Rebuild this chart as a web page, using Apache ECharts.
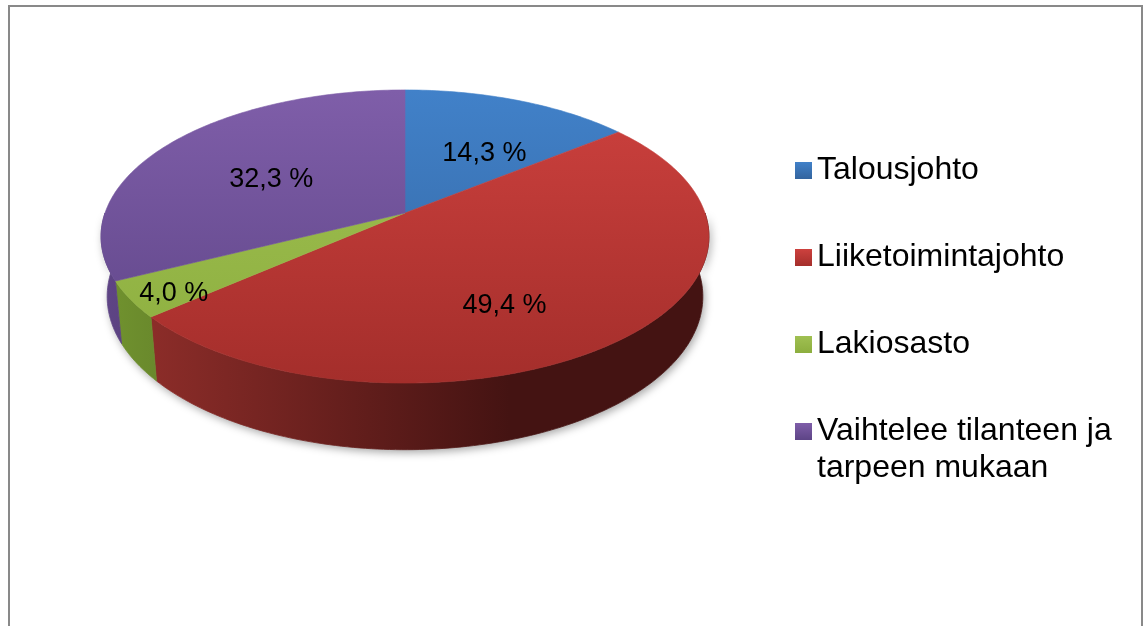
<!DOCTYPE html>
<html>
<head>
<meta charset="utf-8">
<title>Pie 3D</title>
<script src="https://cdn.jsdelivr.net/npm/echarts@6/dist/echarts.min.js"></script>
<style>
  html, body { margin: 0; padding: 0; background: #fff; }
  #chart { width: 1143px; height: 626px; }
</style>
</head>
<body>
<div id="chart"></div>
<script>
const categories = ['Talousjohto', 'Liiketoimintajohto', 'Lakiosasto', 'Vaihtelee tilanteen ja tarpeen mukaan'];
const values = [14.3, 49.4, 4.0, 32.3];
const topColors = [['#4181c9', '#33649e'], ['#cd413e', '#a42e2b'], ['#a0c052', '#8cae3e'], ['#7f5ea9', '#5d4486']];
const sideColors = [['#30588a', '#172a44'], ['#96302c', '#441312'], ['#72942f', '#34451a'], ['#5f4586', '#2b1e3e']];
// label placement tweaks (radius fraction, angle shift in degrees)
const labelR = [0.54, 0.65, 0.87, 0.53];
const labelShift = [6, 12, -2, -3];

// fake 3d: tilt + a bit of perspective
const TILT_SIN = 0.476, TILT_COS = 0.879, PERSP = 0.1825, DEPTH = 0.23;
const total = values.reduce((a, b) => a + b, 0);
const FONT = '"Liberation Sans", Arial, sans-serif';

function project(theta, r, h) {
  const a = theta * Math.PI / 180;
  const X = r * Math.sin(a), Z = r * Math.cos(a);
  const d = 1 + PERSP * (Z * TILT_COS - h * TILT_SIN);
  return [X / d, (Z * TILT_SIN + h * TILT_COS) / d];
}

function fmt(v) {
  return v.toFixed(1).replace('.', ',') + ' %';
}

function renderSlice(params, api) {
  const i = params.seriesIndex;
  let start = 0;
  for (let k = 0; k < i; k++) start += values[k];
  const t0 = start / total * 360;
  const t1 = (start + values[i]) / total * 360;
  const pt = (th, r, h) => api.coord(project(th, r, h));
  const children = [];

  const topY = pt(0, 1, 0)[1], botY = pt(180, 1, 0)[1];
  const gx0 = api.coord([-1.02, 0])[0], gx1 = api.coord([0.35, 0])[0];

  // soft shadow under the whole cake, drawn once
  if (i === 0) {
    const sh = [];
    for (let th = 90; th <= 270; th += 2) sh.push(pt(th, 1, 0));
    for (let th = 270; th >= 90; th -= 2) sh.push(pt(th, 1, -DEPTH));
    children.push({
      type: 'polygon', z2: 0, shape: { points: sh },
      style: { fill: '#fff', shadowBlur: 8, shadowColor: 'rgba(0,0,0,0.35)', shadowOffsetX: 2, shadowOffsetY: 3 }
    });
  }

  // front wall
  const w0 = Math.max(t0, 90), w1 = Math.min(t1, 270);
  if (w1 > w0) {
    const pts = [];
    const n = Math.max(2, Math.ceil(w1 - w0));
    for (let s = 0; s <= n; s++) pts.push(pt(w0 + (w1 - w0) * s / n, 1, 0));
    for (let s = n; s >= 0; s--) pts.push(pt(w0 + (w1 - w0) * s / n, 1, -DEPTH));
    const g = new echarts.graphic.LinearGradient(gx0, 0, gx1, 0, [
      { offset: 0, color: sideColors[i][0] },
      { offset: 1, color: sideColors[i][1] }
    ], true);
    children.push({
      type: 'polygon', z2: 1, shape: { points: pts },
      style: { fill: g, stroke: g, lineWidth: 0.8 }
    });
  }

  // top face
  const tp = [pt(0, 0, 0)];
  const n2 = Math.max(2, Math.ceil(t1 - t0));
  for (let s = 0; s <= n2; s++) tp.push(pt(t0 + (t1 - t0) * s / n2, 1, 0));
  const gt = new echarts.graphic.LinearGradient(0, topY, 0, botY, [
    { offset: 0, color: topColors[i][0] },
    { offset: 1, color: topColors[i][1] }
  ], true);
  children.push({
    type: 'polygon', z2: 2, shape: { points: tp },
    style: { fill: gt, stroke: gt, lineWidth: 0.6 }
  });

  // value label
  const lp = pt((t0 + t1) / 2 + labelShift[i], labelR[i], 0);
  children.push({
    type: 'text', z2: 3, x: lp[0], y: lp[1] + 2,
    style: {
      text: fmt(api.value(0)), fill: '#000', align: 'center', verticalAlign: 'middle',
      font: '27px ' + FONT
    }
  });

  return { type: 'group', children: children };
}

const legendBase = {
  orient: 'vertical', left: 795, padding: 0,
  itemGap: 50, itemWidth: 17, itemHeight: 17, icon: 'rect',
  textStyle: { fontSize: 32, fontFamily: FONT, color: '#000', lineHeight: 37 }
};

const chart = echarts.init(document.getElementById('chart'));
chart.setOption({
  animation: false,
  backgroundColor: '#fff',
  grid: { left: 45, top: 33, width: 720, height: 360 },
  xAxis: { type: 'value', min: -1.2, max: 1.2, show: false },
  yAxis: { type: 'value', min: -0.6, max: 0.6, show: false },
  legend: [
    Object.assign({}, legendBase, { top: 152, data: categories.slice(0, 3) }),
    Object.assign({}, legendBase, {
      top: 376,
      data: categories.slice(3),
      // empty first line keeps the marker level with the first text line
      formatter: name => '{gap| }\n{t|' + name.replace(' ja ', ' ja}\n{t|') + '}',
      textStyle: {
        fontSize: 32, fontFamily: FONT, color: '#000', lineHeight: 37,
        rich: {
          gap: { fontSize: 32, lineHeight: 37, fontFamily: FONT },
          t: { fontSize: 32, lineHeight: 37, fontFamily: FONT, color: '#000' }
        }
      }
    })
  ],
  graphic: [{
    type: 'rect', z: -1, silent: true,
    shape: { x: 9, y: 6, width: 1133, height: 700 },
    style: { fill: 'none', stroke: '#898989', lineWidth: 2 }
  }],
  series: categories.map((c, i) => ({
    type: 'custom',
    name: c,
    coordinateSystem: 'cartesian2d',
    clip: false,
    itemStyle: {
      color: new echarts.graphic.LinearGradient(0, 0, 0, 1, [
        { offset: 0, color: topColors[i][0] },
        { offset: 1, color: topColors[i][1] }
      ])
    },
    renderItem: renderSlice,
    data: [[values[i], 0]]
  }))
});
</script>
</body>
</html>
